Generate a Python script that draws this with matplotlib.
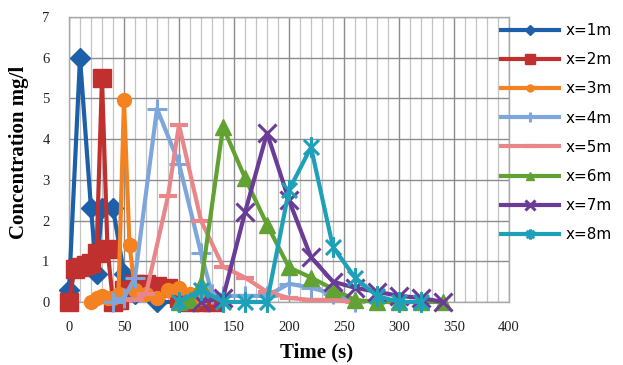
import matplotlib
matplotlib.use("Agg")
import matplotlib.pyplot as plt
from matplotlib.path import Path
from matplotlib.ticker import MultipleLocator

# ---- data ----
t1 = [0, 10, 20, 25, 30, 40, 50, 60, 80, 100]
c1 = [0.3, 6.0, 2.3, 0.7, 2.3, 2.3, 0.7, 0.2, 0.0, 0.0]

t2 = [0, 5, 10, 15, 20, 25, 30, 35, 40, 45, 50, 60, 70, 80, 90, 100, 110, 120, 130]
c2 = [0.0, 0.8, 0.85, 0.9, 0.95, 1.2, 5.5, 1.3, 0.0, 0.05, 0.3, 0.45, 0.45, 0.4, 0.35, 0.1, 0.0, 0.0, 0.0]

t3 = [20, 25, 30, 35, 40, 45, 50, 55, 60, 70, 80, 90, 100, 110, 120]
c3 = [0.0, 0.1, 0.15, 0.1, 0.1, 0.2, 4.95, 1.4, 0.3, 0.2, 0.1, 0.3, 0.35, 0.2, 0.1]

t4 = [40, 50, 60, 80, 100, 120, 130, 140, 160, 180, 200, 220, 240, 260]
c4 = [0.0, 0.1, 0.6, 4.75, 3.4, 1.2, 0.2, 0.15, 0.15, 0.15, 0.45, 0.35, 0.2, 0.0]

t5 = [60, 70, 90, 100, 120, 140, 160, 180, 200, 220, 240, 260]
c5 = [0.05, 0.2, 2.6, 4.35, 2.0, 0.87, 0.6, 0.25, 0.1, 0.05, 0.05, 0.0]

t6 = [100, 110, 120, 140, 160, 180, 200, 220, 240, 260, 280, 300, 320, 340]
c6 = [0.0, 0.05, 0.45, 4.3, 3.05, 1.9, 0.85, 0.6, 0.32, 0.05, 0.0, 0.0, 0.0, 0.0]

t7 = [120, 140, 160, 180, 200, 220, 240, 260, 280, 300, 320, 340]
c7 = [0.0, 0.1, 2.2, 4.15, 2.5, 1.1, 0.5, 0.35, 0.25, 0.15, 0.1, 0.0]

t8 = [100, 120, 140, 160, 180, 200, 220, 240, 260, 280, 300, 320]
c8 = [0.0, 0.3, 0.0, 0.0, 0.0, 2.75, 3.8, 1.35, 0.6, 0.15, 0.0, 0.0]

labels = ["x=1m", "x=2m", "x=3m", "x=4m", "x=5m", "x=6m", "x=7m", "x=8m"]
x_ticks = [0, 50, 100, 150, 200, 250, 300, 350, 400]
y_ticks = [0, 1, 2, 3, 4, 5, 6, 7]

# ---- styles ----
star = Path([(0, -1), (0, 1), (-0.72, -0.72), (0.72, 0.72), (-0.72, 0.72), (0.72, -0.72)],
            [Path.MOVETO, Path.LINETO, Path.MOVETO, Path.LINETO, Path.MOVETO, Path.LINETO])

styles = [
    dict(color="#1d5fa8", marker="D", ms=10, mew=1),
    dict(color="#c0302e", marker="s", ms=13, mew=1),
    dict(color="#f58220", marker="o", ms=10, mew=1),
    dict(color="#7ea6da", marker="+", ms=14, mew=2.2),
    dict(color="#e8868a", marker="_", ms=13, mew=3),
    dict(color="#62a232", marker="^", ms=11, mew=1),
    dict(color="#6b3b98", marker="x", ms=13, mew=2.2),
    dict(color="#1fa0b9", marker=star, ms=15, mew=2.2),
]

series = [(t1, c1), (t2, c2), (t3, c3), (t4, c4), (t5, c5), (t6, c6), (t7, c7), (t8, c8)]

fig = plt.figure(figsize=(6.23, 3.65), dpi=100)
ax = fig.add_axes([69 / 623, 63 / 365, 440 / 623, 285 / 365])

handles = []
for (t, c), st, lab in zip(series, styles, labels):
    h, = ax.plot(t, c, color=st["color"], lw=3.0, marker=st["marker"],
                 ms=st["ms"], mew=st["mew"], mec=st["color"], mfc=st["color"],
                 label=lab, clip_on=False, zorder=3)
    handles.append(h)

ax.set_xlim(0, 400)
ax.set_ylim(0, 7)
ax.set_xticks(x_ticks)
ax.set_yticks(y_ticks)
ax.xaxis.set_minor_locator(MultipleLocator(10))
ax.grid(True, which="major", axis="both", color="#8c8c8c", lw=1.0, zorder=0)
ax.grid(True, which="minor", axis="x", color="#c4c4c4", lw=0.9, zorder=0)
ax.set_axisbelow(True)
for s in ax.spines.values():
    s.set_color("#a8a8a8")
    s.set_linewidth(1.0)
ax.tick_params(axis="both", which="both", length=0)
ax.tick_params(axis="x", pad=14)
ax.tick_params(axis="y", pad=14)
for lab in ax.get_xticklabels() + ax.get_yticklabels():
    lab.set_fontfamily("Liberation Serif")
    lab.set_fontsize(10.5)
    lab.set_color("#222222")

fig.text(19 / 623, 1 - 152 / 365, "Concentration mg/l", rotation=90, ha="center", va="center",
         fontfamily="Liberation Serif", fontweight="bold", fontsize=15)
fig.text(317 / 623, 1 - 352 / 365, "Time (s)", ha="center", va="center",
         fontfamily="Liberation Serif", fontweight="bold", fontsize=15)

leg = fig.legend(handles=handles, loc="upper left", bbox_to_anchor=(501 / 623, 1 - 23 / 365),
                 frameon=False, prop=dict(family="DejaVu Sans", size=11),
                 handlelength=3.8, handletextpad=0.45, labelspacing=0.93,
                 markerscale=0.5, borderaxespad=0, borderpad=0)

fig.savefig("out.png", dpi=100)
